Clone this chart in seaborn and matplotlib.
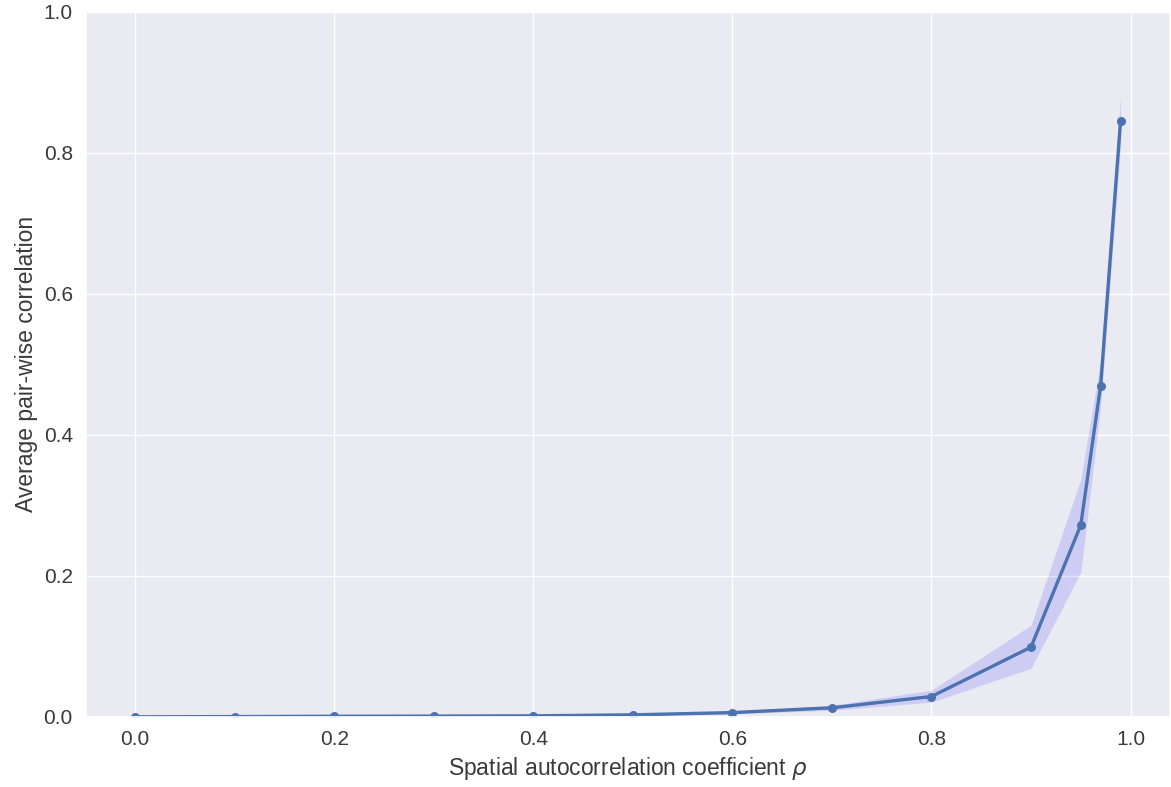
import matplotlib
matplotlib.use("Agg")
import matplotlib.pyplot as plt
import seaborn as sns
import pandas as pd

rho = [0.0, 0.1, 0.2, 0.3, 0.4, 0.5, 0.6, 0.7, 0.8, 0.9, 0.95, 0.97, 0.99]
mean_corr = [0.0002, 0.0005, 0.001, 0.0012, 0.0016, 0.003, 0.0062, 0.013, 0.029, 0.099, 0.272, 0.470, 0.845]
lower = [0.0001, 0.0003, 0.0007, 0.0009, 0.0012, 0.0022, 0.0045, 0.0095, 0.021, 0.069, 0.205, 0.440, 0.810]
upper = [0.0004, 0.0008, 0.0014, 0.0016, 0.0022, 0.0040, 0.0080, 0.0165, 0.038, 0.130, 0.337, 0.505, 0.880]

sns.set_theme(style="darkgrid")
plt.rcParams['font.family'] = ['Liberation Sans', 'DejaVu Sans']

df = pd.DataFrame({"rho": rho, "corr": mean_corr})

fig, ax = plt.subplots(figsize=(11.71, 7.87), dpi=100)
ax.fill_between(rho, lower, upper, color="blue", alpha=0.12, linewidth=0)
sns.lineplot(data=df, x="rho", y="corr", marker="o", markersize=6.5,
             markeredgewidth=0, linewidth=2.4, color="#4C72B0", ax=ax)
ax.set_ylim(0, 1.0)
ax.set_xlabel(r"Spatial autocorrelation coefficient $\rho$", fontsize=16.5, color="#3a3a3a")
ax.set_ylabel("Average pair-wise correlation", fontsize=16.5, color="#3a3a3a")
ax.tick_params(labelsize=15, labelcolor="#3a3a3a")
fig.subplots_adjust(left=0.0734, right=0.999, top=0.985, bottom=0.089)
fig.savefig("out.png", dpi=100)
